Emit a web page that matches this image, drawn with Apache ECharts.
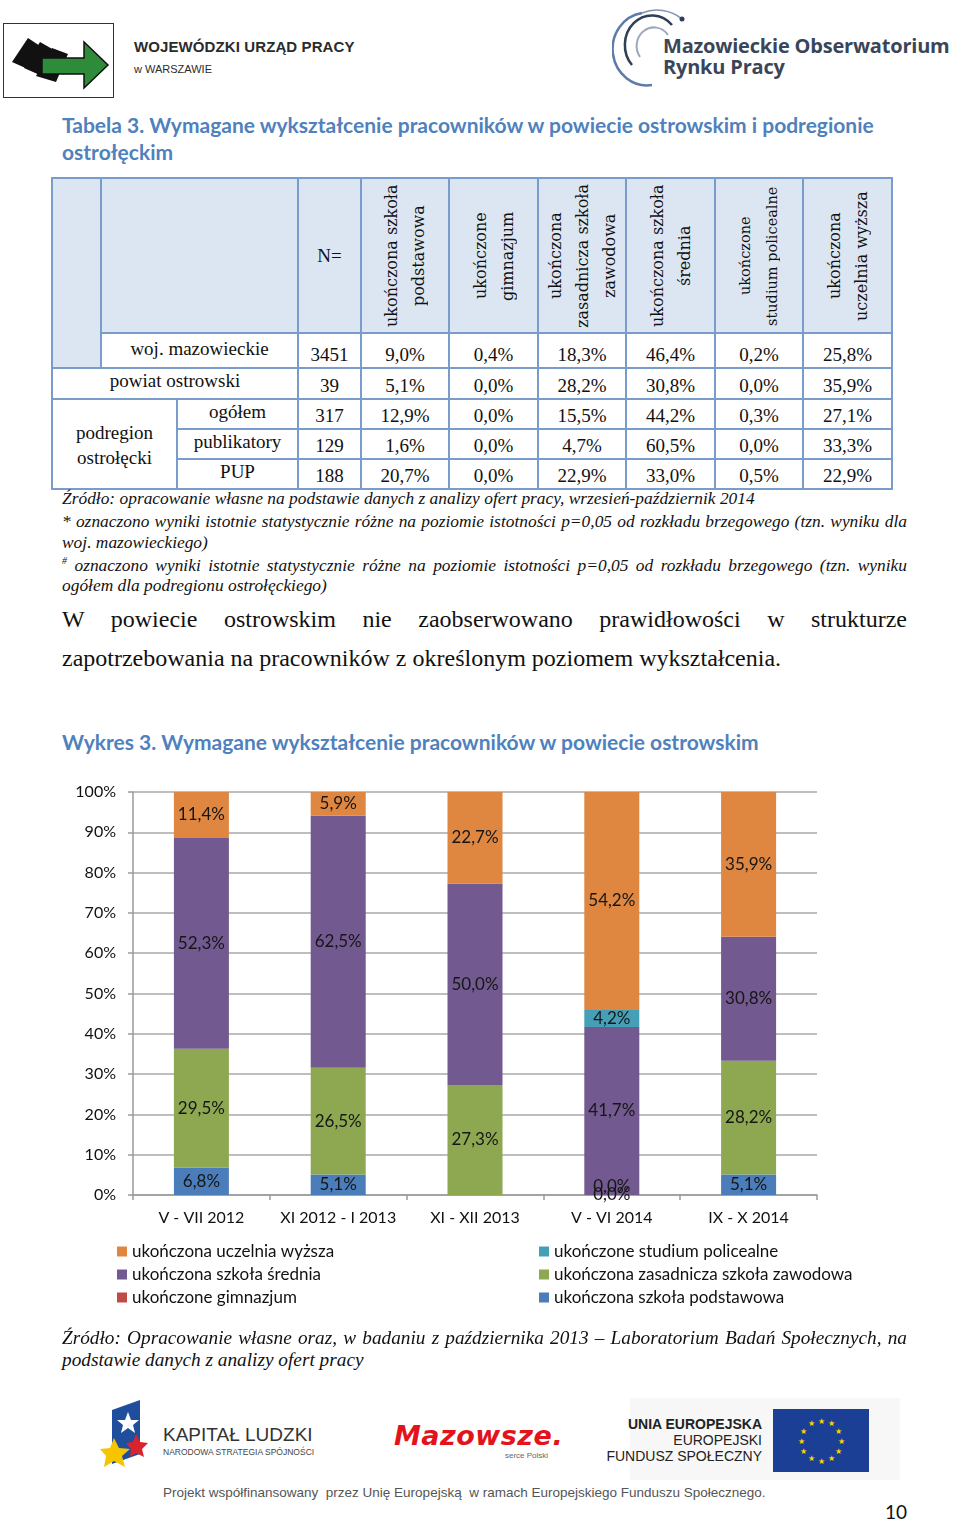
<!DOCTYPE html>
<html>
<head>
<meta charset="utf-8">
<script src="https://cdn.jsdelivr.net/npm/echarts@6/dist/echarts.min.js"></script>
<style>
  html,body{margin:0;padding:0;background:#fff;}
  body{width:960px;height:1520px;position:relative;overflow:hidden;font-family:"Liberation Serif",serif;color:#111;}
  .abs{position:absolute;white-space:nowrap;}
  .title{font-family:Lato,"Open Sans",sans-serif;font-weight:bold;font-size:21px;color:#4F81BD;}
  .just{text-align:justify;text-align-last:justify;white-space:normal;}
  table.t{position:absolute;left:51px;top:177px;border-collapse:collapse;table-layout:fixed;width:842px;}
  table.t td{border:2px solid #7A9CCB;padding:0;text-align:center;font-family:"Liberation Serif",serif;font-size:19px;overflow:hidden;}
  table.t td.h{background:#DCE6F2;}
  .rot{writing-mode:vertical-rl;transform:rotate(180deg);font-family:"DejaVu Serif",serif;font-size:16px;line-height:27px;margin:0 auto;text-align:center;height:152px;white-space:nowrap;}
  td.v{vertical-align:bottom;padding-bottom:1px !important;}
  td.l{vertical-align:top;}
  .fn{font-style:italic;font-size:17.4px;}
</style>
</head>
<body>
<!-- header logos -->
<div class="abs" style="left:3px;top:23px;width:109px;height:73px;border:1.5px solid #333;">
  <svg width="109" height="73" viewBox="0 0 109 73">
    <polygon points="8,38 24,14 36,22 26,46" fill="#111"/>
    <polygon points="20,44 36,18 50,26 38,52" fill="#111"/>
    <polygon points="32,52 48,24 64,30 52,58" fill="#111"/>
    <polygon points="38,34 80,34 80,18 104,41 80,64 80,50 38,50" fill="#2E8B3A" stroke="#111" stroke-width="1.5"/>
  </svg>
</div>
<div class="abs" style="left:134px;top:38px;font-family:'Liberation Sans',sans-serif;font-weight:bold;font-size:15px;color:#2b2b2b;letter-spacing:0.1px;">WOJEWÓDZKI URZĄD PRACY</div>
<div class="abs" style="left:134px;top:63px;font-family:'Liberation Sans',sans-serif;font-size:11px;color:#2b2b2b;">w WARSZAWIE</div>

<svg class="abs" style="left:612px;top:5px;" width="80" height="85" viewBox="0 0 80 85">
  <path d="M 40 80 A 34 36 0 0 1 30 8" fill="none" stroke="#5d7da8" stroke-width="2.5"/>
  <path d="M 20 60 A 22 24 0 0 1 60 20" fill="none" stroke="#2f3f55" stroke-width="2.5"/>
  <path d="M 28 52 A 14 15 0 0 1 56 30" fill="none" stroke="#9aa9bd" stroke-width="2"/>
  <path d="M 30 8 A 40 40 0 0 1 70 14" fill="none" stroke="#7f93b0" stroke-width="1.5"/>
  <circle cx="70" cy="14" r="2.5" fill="#2f3f55"/>
</svg>
<div class="abs" style="left:663px;top:32px;font-family:'Open Sans',sans-serif;font-weight:bold;font-size:20px;color:#3a4658;letter-spacing:-0.2px;">Mazowieckie Obserwatorium</div>
<div class="abs" style="left:663px;top:53px;font-family:'Open Sans',sans-serif;font-weight:bold;font-size:20px;color:#3a4658;letter-spacing:-0.2px;">Rynku Pracy</div>

<!-- table title -->
<div class="abs title" style="left:62px;top:112px;">Tabela 3. Wymagane wykształcenie pracowników w powiecie ostrowskim i podregionie</div>
<div class="abs title" style="left:62px;top:139px;">ostrołęckim</div>

<table class="t">
  <colgroup>
    <col style="width:49px"><col style="width:76px"><col style="width:121px"><col style="width:63px">
    <col style="width:88px"><col style="width:89px"><col style="width:88px"><col style="width:89px"><col style="width:88px"><col style="width:89px">
  </colgroup>
  <tr style="height:155px">
    <td class="h" rowspan="2"></td>
    <td class="h" colspan="2"></td>
    <td class="h">N=</td>
    <td class="h"><div class="rot">ukończona szkoła<br>podstawowa</div></td>
    <td class="h"><div class="rot">ukończone<br>gimnazjum</div></td>
    <td class="h"><div class="rot">ukończona<br>zasadnicza szkoła<br>zawodowa</div></td>
    <td class="h"><div class="rot">ukończona szkoła<br>średnia</div></td>
    <td class="h"><div class="rot" style="font-size:14.5px">ukończone<br>studium policealne</div></td>
    <td class="h"><div class="rot">ukończona<br>uczelnia wyższa</div></td>
  </tr>
  <tr style="height:35px">
    <td colspan="2" class="l" style="padding-top:4px">woj. mazowieckie</td>
    <td class="v">3451</td><td class="v">9,0%</td><td class="v">0,4%</td><td class="v">18,3%</td><td class="v">46,4%</td><td class="v">0,2%</td><td class="v">25,8%</td>
  </tr>
  <tr style="height:31px">
    <td colspan="3" class="l" style="padding-top:1px">powiat ostrowski</td>
    <td class="v">39</td><td class="v">5,1%</td><td class="v">0,0%</td><td class="v">28,2%</td><td class="v">30,8%</td><td class="v">0,0%</td><td class="v">35,9%</td>
  </tr>
  <tr style="height:30px">
    <td colspan="2" rowspan="3" style="line-height:25px;padding-top:2px">podregion<br>ostrołęcki</td>
    <td class="l" style="padding-top:1px">ogółem</td>
    <td class="v">317</td><td class="v">12,9%</td><td class="v">0,0%</td><td class="v">15,5%</td><td class="v">44,2%</td><td class="v">0,3%</td><td class="v">27,1%</td>
  </tr>
  <tr style="height:30px">
    <td class="l" style="padding-top:1px">publikatory</td>
    <td class="v">129</td><td class="v">1,6%</td><td class="v">0,0%</td><td class="v">4,7%</td><td class="v">60,5%</td><td class="v">0,0%</td><td class="v">33,3%</td>
  </tr>
  <tr style="height:30px">
    <td class="l" style="padding-top:1px">PUP</td>
    <td class="v">188</td><td class="v">20,7%</td><td class="v">0,0%</td><td class="v">22,9%</td><td class="v">33,0%</td><td class="v">0,5%</td><td class="v">22,9%</td>
  </tr>
</table>

<div class="abs fn" style="left:62px;top:488px;">Źródło: opracowanie własne na podstawie danych z analizy ofert pracy, wrzesień-październik 2014</div>
<div class="abs fn just" style="left:62px;top:511px;width:845px;">* oznaczono wyniki istotnie statystycznie różne na poziomie istotności p=0,05 od rozkładu brzegowego (tzn. wyniku dla</div>
<div class="abs fn" style="left:62px;top:532px;">woj. mazowieckiego)</div>
<div class="abs fn just" style="left:62px;top:555px;width:845px;"><sup style="font-size:10px">#</sup> oznaczono wyniki istotnie statystycznie różne na poziomie istotności p=0,05 od rozkładu brzegowego (tzn. wyniku</div>
<div class="abs fn" style="left:62px;top:575px;">ogółem dla podregionu ostrołęckiego)</div>

<div class="abs just" style="left:62px;top:606px;width:845px;font-size:24px;">W powiecie ostrowskim nie zaobserwowano prawidłowości w strukturze</div>
<div class="abs" style="left:62px;top:645px;font-size:24px;">zapotrzebowania na pracowników z określonym poziomem wykształcenia.</div>

<div class="abs title" style="left:62px;top:729px;">Wykres 3. Wymagane wykształcenie pracowników w powiecie ostrowskim</div>

<div id="chart" class="abs" style="left:0;top:770px;width:960px;height:560px;"></div>

<div class="abs fn just" style="left:62px;top:1327px;width:845px;font-size:19.3px;">Źródło: Opracowanie własne oraz, w badaniu z października 2013 – Laboratorium Badań Społecznych, na</div>
<div class="abs fn" style="left:62px;top:1349px;font-size:19.3px;">podstawie danych z analizy ofert pracy</div>

<!-- footer logos -->
<svg class="abs" style="left:100px;top:1398px;" width="50" height="78" viewBox="0 0 50 78">
  <polygon points="12,12 40,2 40,56 12,66" fill="#1F4E9C"/>
  <polygon points="28,14 31,22 39,22 33,27 35,35 28,30 21,35 23,27 17,22 25,22" fill="#fff"/>
  <polygon points="36,36 40,44 48,45 42,51 44,59 36,55 30,59 31,51 26,45 33,44" fill="#D9232D"/>
  <polygon points="14,40 19,50 30,51 22,58 25,69 14,63 4,69 6,58 0,51 10,50" fill="#F6C500"/>
</svg>
<div class="abs" style="left:163px;top:1424px;font-family:'Liberation Sans',sans-serif;font-size:19px;color:#333;">KAPITAŁ LUDZKI</div>
<div class="abs" style="left:163px;top:1447px;font-family:'Liberation Sans',sans-serif;font-size:8.5px;color:#444;">NARODOWA STRATEGIA SPÓJNOŚCI</div>
<div class="abs" style="left:394px;top:1420px;font-family:'DejaVu Sans',sans-serif;font-weight:bold;font-style:italic;font-size:27px;color:#E3131B;letter-spacing:0.5px;">Mazowsze.</div>
<div class="abs" style="left:505px;top:1451px;font-family:'Liberation Sans',sans-serif;font-size:8px;color:#666;">serce Polski</div>
<div class="abs" style="left:630px;top:1398px;width:270px;height:82px;background:#f7f7f7;"></div>
<div class="abs" style="left:600px;top:1416px;width:162px;text-align:right;font-family:'Liberation Sans',sans-serif;font-size:14px;line-height:16px;color:#222;">
  <b>UNIA EUROPEJSKA</b><br>EUROPEJSKI<br>FUNDUSZ SPOŁECZNY</div>
<svg id="eu" class="abs" style="left:773px;top:1409px;" width="96" height="63" viewBox="0 0 96 63">
  <rect width="96" height="63" fill="#1C3F96"/>
</svg>
<div class="abs" style="left:163px;top:1485px;font-family:'Liberation Sans',sans-serif;font-size:13.5px;color:#555;">Projekt współfinansowany&nbsp; przez Unię Europejską&nbsp; w ramach Europejskiego Funduszu Społecznego.</div>
<div class="abs" style="left:885px;top:1500px;font-family:Lato,sans-serif;font-size:19px;color:#111;">10</div>

<script>
// EU flag stars (decoration)
(function(){
  var svg=document.getElementById('eu');
  for(var i=0;i<12;i++){
    var a=i*Math.PI/6;
    var t=document.createElementNS('http://www.w3.org/2000/svg','text');
    t.setAttribute('x',48+20*Math.sin(a));t.setAttribute('y',31.5-20*Math.cos(a)+3);
    t.setAttribute('fill','#F8D400');t.setAttribute('font-size','8');t.setAttribute('text-anchor','middle');
    t.textContent='★';svg.appendChild(t);
  }
})();

// ---- chart data ----
var categories = ['V - VII 2012','XI 2012 - I 2013','XI - XII 2013','V - VI 2014','IX - X 2014'];
var seriesNames = ['ukończona szkoła podstawowa','ukończone gimnazjum','ukończona zasadnicza szkoła zawodowa','ukończona szkoła średnia','ukończone studium policealne','ukończona uczelnia wyższa'];
var podstawowa  = [6.8, 5.1, null, 0.0, 5.1];
var gimnazjum   = [null, null, null, null, null];
var zasadnicza  = [29.5, 26.5, 27.3, 0.0, 28.2];
var srednia     = [52.3, 62.5, 50.0, 41.7, 30.8];
var policealne  = [null, null, null, 4.2, null];
var uczelnia    = [11.4, 5.9, 22.7, 54.2, 35.9];
var yTicks = [0,10,20,30,40,50,60,70,80,90,100];

var colors = ['#4A7DBA','#BE4B48','#8DA851','#72598F','#45A0B7','#DF8640'];
var values = [podstawowa, gimnazjum, zasadnicza, srednia, policealne, uczelnia];

function fmt(v){ return v.toFixed(1).replace('.',',') + '%'; }

var series = seriesNames.map(function(name, i){
  return {
    name: name, type: 'bar', stack: 'total', barWidth: 55,
    itemStyle: { color: colors[i] },
    label: {
      show: true, position: 'inside', fontFamily: 'Lato', fontSize: 17, color: '#161616',
      formatter: function(p){ return p.value == null ? '' : fmt(p.value); }
    },
    data: values[i].map(function(v, j){
      if (i === 0 && j === 3) return { value: v, label: { offset: [0, -8] } };
      return v;
    })
  };
});

var chart = echarts.init(document.getElementById('chart'), null, {renderer:'canvas'});
chart.setOption({
  animation: false,
  textStyle: { fontFamily: 'Lato' },
  grid: { left: 133, top: 22, width: 684, height: 403, containLabel: false },
  xAxis: {
    type: 'category', data: categories,
    axisLine: { lineStyle: { color: '#9a9a9a', width: 1.5 } },
    axisTick: { show: true, length: 5, lineStyle: { color: '#9a9a9a', width: 1.5 } },
    axisLabel: { fontSize: 16, color: '#111', margin: 15, interval: 0 }
  },
  yAxis: {
    type: 'value', min: 0, max: 100, interval: 10,
    axisLine: { show: true, lineStyle: { color: '#9a9a9a', width: 1.5 } },
    axisTick: { show: true, length: 5, lineStyle: { color: '#9a9a9a', width: 1.5 } },
    splitLine: { lineStyle: { color: '#a8a8a8', width: 1.5 } },
    axisLabel: { fontSize: 16, color: '#111', margin: 17,
      formatter: function(v){ return yTicks.indexOf(v) >= 0 ? v + '%' : ''; } }
  },
  legend: [
    { orient: 'vertical', left: 117, top: 473, padding: 0, itemWidth: 10, itemHeight: 10, itemGap: 6, icon: 'rect',
      textStyle: { fontSize: 17, color: '#111', fontFamily: 'Lato' },
      data: ['ukończona uczelnia wyższa','ukończona szkoła średnia','ukończone gimnazjum'] },
    { orient: 'vertical', left: 539, top: 473, padding: 0, itemWidth: 10, itemHeight: 10, itemGap: 6, icon: 'rect',
      textStyle: { fontSize: 17, color: '#111', fontFamily: 'Lato' },
      data: ['ukończone studium policealne','ukończona zasadnicza szkoła zawodowa','ukończona szkoła podstawowa'] }
  ],
  series: series
});
</script>
</body>
</html>
